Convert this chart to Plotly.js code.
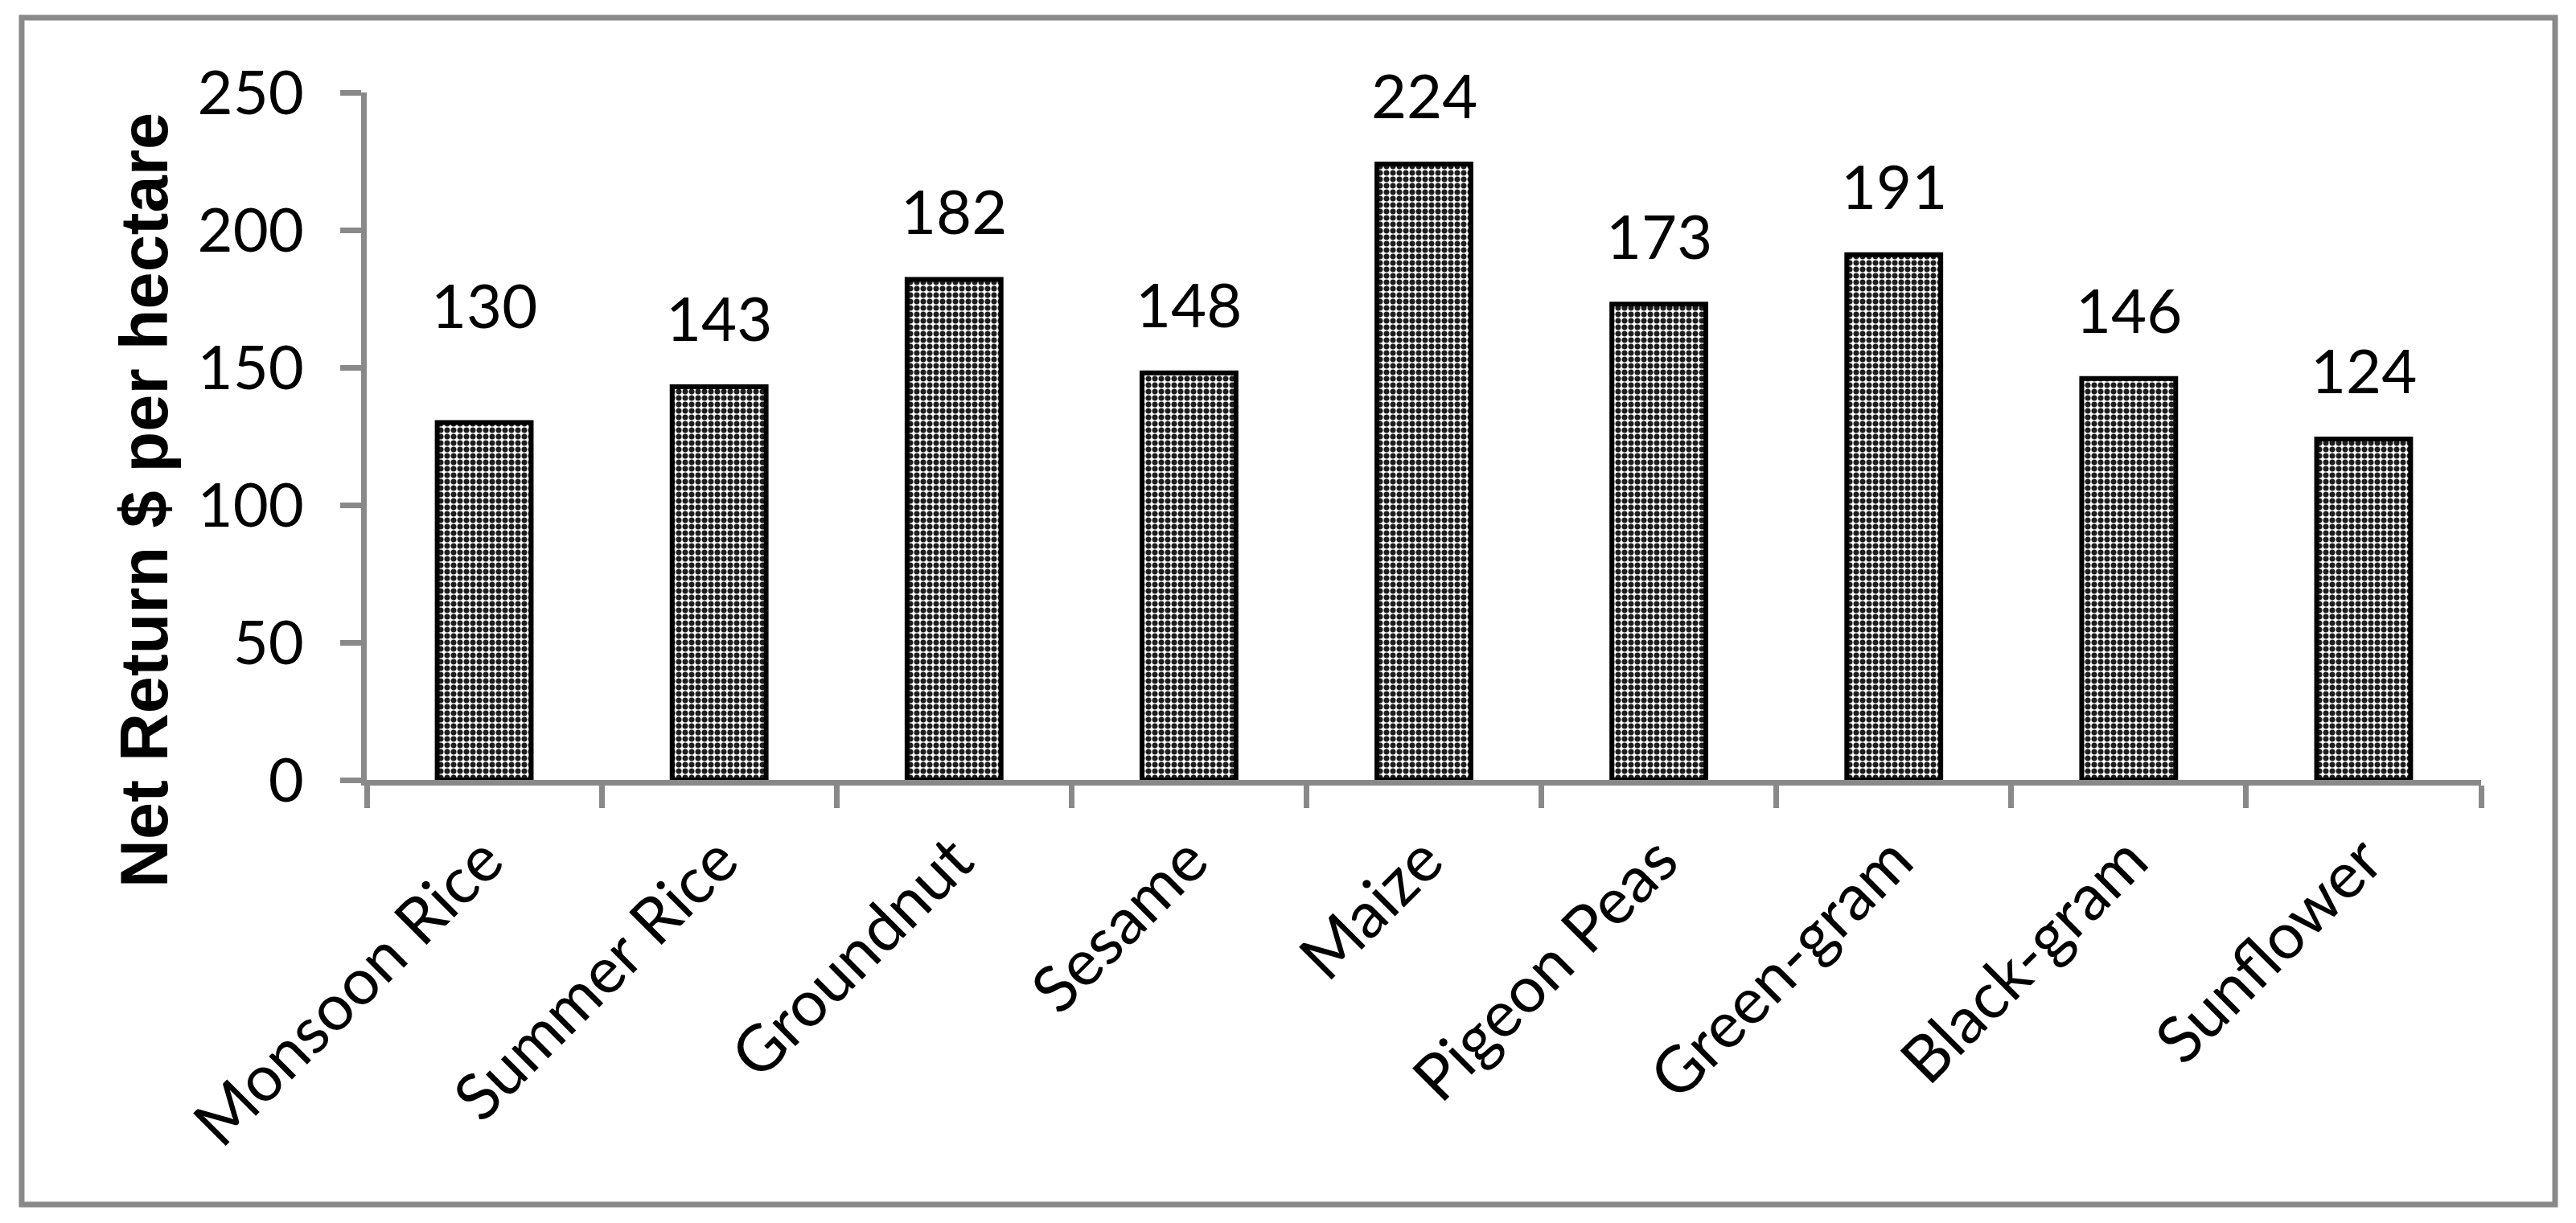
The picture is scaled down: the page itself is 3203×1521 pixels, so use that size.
<!DOCTYPE html>
<html>
<head>
<meta charset="utf-8">
<script src="https://cdn.plot.ly/plotly-3.0.1.min.js"></script>
<style>
  html, body { margin: 0; padding: 0; background: #ffffff; }
  #chart { width: 3203px; height: 1521px; }
</style>
</head>
<body>
<div id="chart"></div>
<script>
// Net return per hectare by crop
const crops = ['Monsoon Rice', 'Summer Rice', 'Groundnut', 'Sesame', 'Maize',
               'Pigeon Peas', 'Green-gram', 'Black-gram', 'Sunflower'];
const netReturn = [130, 143, 182, 148, 224, 173, 191, 146, 124];
const yTicks = [0, 50, 100, 150, 200, 250];

const axisGray = '#898989';
const labelFont = { family: 'Lato, sans-serif', size: 76, color: '#000000' };

const data = [{
    type: 'bar',
    x: crops,
    y: netReturn,
    marker: {
        color: '#ffffff',
        line: { color: '#000000', width: 6 },
        pattern: {
            shape: '.',
            fgcolor: '#1e1e1e',
            bgcolor: '#ffffff',
            size: 8,
            solidity: 0.6
        }
    },
    hoverinfo: 'x+y'
}];

// value labels above each bar (the first one sits a bit higher in the original)
const annotations = crops.map((c, i) => ({
    x: c,
    y: netReturn[i],
    xref: 'x',
    yref: 'y',
    text: String(netReturn[i]),
    showarrow: false,
    yanchor: 'middle',
    yshift: i === 0 ? 147 : 86,
    font: labelFont
}));

// y axis title placed as an annotation so it can sit off-centre like the original
annotations.push({
    xref: 'paper',
    yref: 'paper',
    x: -0.1054,
    y: 0.407,
    xanchor: 'center',
    yanchor: 'middle',
    textangle: -90,
    text: 'Net Return $ per hectare',
    showarrow: false,
    font: { family: 'Liberation Sans, Arial, sans-serif', size: 83, color: '#000000', weight: 'bold' }
});

const layout = {
    width: 3203,
    height: 1521,
    paper_bgcolor: '#ffffff',
    plot_bgcolor: '#ffffff',
    margin: { l: 456, r: 118, t: 115, b: 551, pad: 0 },
    showlegend: false,
    bargap: 0.6,
    font: labelFont,
    xaxis: {
        type: 'category',
        tickangle: -45,
        tickson: 'boundaries',
        ticks: 'outside',
        ticklen: 28,
        tickwidth: 7,
        tickcolor: axisGray,
        showline: true,
        linecolor: axisGray,
        linewidth: 7,
        showgrid: false,
        zeroline: false,
        tickfont: { family: 'Lato, sans-serif', size: 80, color: '#000000' },
        ticklabelstandoff: 14
    },
    yaxis: {
        range: [0, 250],
        tickvals: yTicks,
        ticks: 'outside',
        ticklen: 26,
        tickwidth: 7,
        tickcolor: axisGray,
        showline: true,
        linecolor: axisGray,
        linewidth: 7,
        showgrid: false,
        zeroline: false,
        tickfont: labelFont,
        ticklabelstandoff: 30
    },
    annotations: annotations,
    shapes: [{
        type: 'rect',
        xref: 'paper',
        yref: 'paper',
        x0: -0.1632,
        x1: 1.0350,
        y0: -0.6175,
        y1: 1.1088,
        line: { color: axisGray, width: 7 },
        fillcolor: 'rgba(0,0,0,0)',
        layer: 'below'
    }]
};

const config = { displayModeBar: false, staticPlot: true };

Plotly.newPlot('chart', data, layout, config);
</script>
</body>
</html>
